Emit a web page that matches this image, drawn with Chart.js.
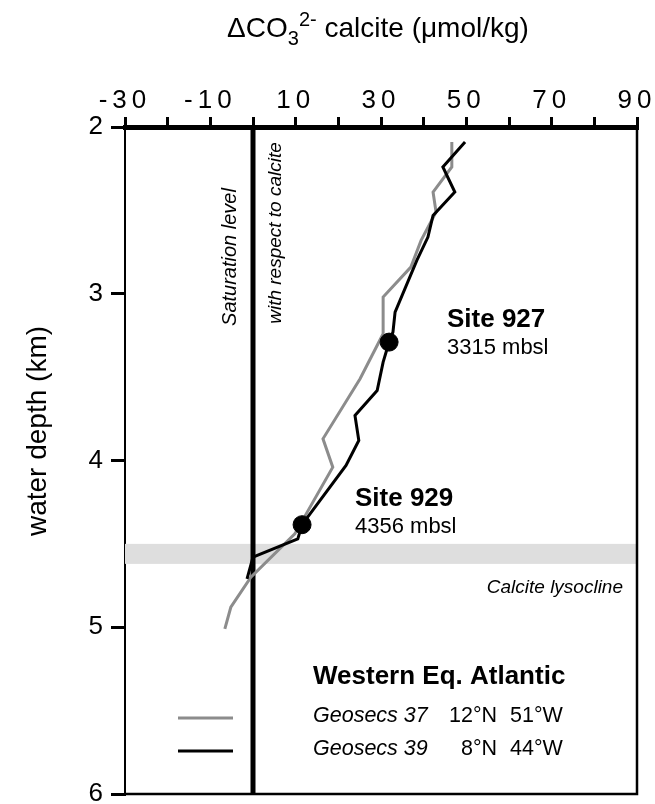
<!DOCTYPE html>
<html>
<head>
<meta charset="utf-8">
<script src="https://cdn.jsdelivr.net/npm/chart.js@4.4.0/dist/chart.umd.min.js"></script>
<style>
  html, body { margin: 0; padding: 0; background: #fff; }
  canvas { display: block; }
</style>
</head>
<body>
<canvas id="co3Chart" width="655" height="804"></canvas>
<script>
// Geosecs 37 (12°N 51°W) - grey profile
const geo37Delta = [46.6, 46.6, 42.2, 42.9, 39.4, 37.0, 30.5, 30.5, 25.1, 16.4, 18.7, 9.8, -0.5, -5.2, -6.6];
const geo37Depth = [2.09, 2.24, 2.39, 2.51, 2.68, 2.84, 3.02, 3.24, 3.51, 3.87, 4.04, 4.44, 4.70, 4.88, 5.01];

// Geosecs 39 (8°N 44°W) - black profile
const geo39Delta = [49.7, 44.5, 47.3, 42.2, 41.0, 38.4, 33.3, 32.8, 31.9, 30.5, 29.1, 23.9, 24.8, 21.8, 11.5, 10.5, 0.0, -1.4];
const geo39Depth = [2.09, 2.24, 2.39, 2.53, 2.66, 2.80, 3.11, 3.23, 3.29, 3.41, 3.58, 3.73, 3.88, 4.03, 4.385, 4.47, 4.58, 4.71];

// ODP sites
const siteNames = ['Site 927', 'Site 929'];
const siteMbsl = ['3315 mbsl', '4356 mbsl'];
const siteDelta = [31.9, 11.5];
const siteDepth = [3.29, 4.385];

// saturation level and lysocline band
const saturationDelta = [0, 0];
const saturationDepth = [2, 6];
const lysoclineDepth = [4.5, 4.62];

// axes
const xTicks = [-30, -20, -10, 0, 10, 20, 30, 40, 50, 60, 70, 80, 90];
const xLabelValues = [-30, -10, 10, 30, 50, 70, 90];
const yTicks = [2, 3, 4, 5, 6];

const FONT = "'Liberation Sans', Arial, sans-serif";

function toPoints(xs, ys) {
    return xs.map((x, i) => ({ x: x, y: ys[i] }));
}

function noOverflow(s) {
    s.paddingLeft = 0;
    s.paddingRight = 0;
    s.paddingTop = 0;
    s.paddingBottom = 0;
}

const figurePlugin = {
    id: 'figureText',
    beforeDraw(chart) {
        // spaced-out tick numbers like the original
        chart.ctx.letterSpacing = '5px';
    },
    beforeDatasetsDraw(chart) {
        const ctx = chart.ctx;
        ctx.letterSpacing = '0px';
        const { left, right } = chart.chartArea;
        const y = chart.scales.y;
        const y1 = y.getPixelForValue(lysoclineDepth[0]);
        const y2 = y.getPixelForValue(lysoclineDepth[1]);
        ctx.save();
        ctx.fillStyle = '#dedede';
        ctx.fillRect(left, y1, right - left, y2 - y1);
        ctx.restore();
    },
    afterDraw(chart) {
        const ctx = chart.ctx;
        const { left, right, top, bottom } = chart.chartArea;
        ctx.save();
        ctx.letterSpacing = '0px';

        // frame right and bottom
        ctx.strokeStyle = '#000';
        ctx.lineWidth = 2.5;
        ctx.beginPath();
        ctx.moveTo(right, top);
        ctx.lineTo(right, bottom);
        ctx.lineTo(left, bottom);
        ctx.stroke();

        ctx.fillStyle = '#000';
        ctx.textBaseline = 'alphabetic';

        // x title with sub/superscript
        const big = `28px ${FONT}`, small = `20px ${FONT}`;
        const parts = [
            { t: '\u0394CO', f: big, dy: 0 },
            { t: '3', f: small, dy: 8 },
            { t: '2-', f: small, dy: -11 },
            { t: ' calcite (\u03bcmol/kg)', f: big, dy: 0 }
        ];
        let total = 0;
        parts.forEach(p => { ctx.font = p.f; p.w = ctx.measureText(p.t).width; total += p.w; });
        let tx = 378 - total / 2;
        parts.forEach(p => {
            ctx.font = p.f;
            ctx.textAlign = 'left';
            ctx.fillText(p.t, tx, 37 + p.dy);
            tx += p.w;
        });

        // y title
        ctx.save();
        ctx.translate(38, 431);
        ctx.rotate(-Math.PI / 2);
        ctx.font = `28px ${FONT}`;
        ctx.textAlign = 'center';
        ctx.textBaseline = 'middle';
        ctx.fillText('water depth (km)', 0, 0);
        ctx.restore();

        // saturation labels
        [['Saturation level', 230, 257, 20], ['with respect to calcite', 276, 233, 19]].forEach(([t, x, yy, fs]) => {
            ctx.save();
            ctx.font = `italic ${fs}px ${FONT}`;
            ctx.translate(x, yy);
            ctx.rotate(-Math.PI / 2);
            ctx.textAlign = 'center';
            ctx.textBaseline = 'middle';
            ctx.fillText(t, 0, 0);
            ctx.restore();
        });

        // site labels
        const sitePos = [[447, 327], [355, 506]];
        siteNames.forEach((name, i) => {
            ctx.textAlign = 'left';
            ctx.font = `bold 26px ${FONT}`;
            ctx.fillText(name, sitePos[i][0], sitePos[i][1]);
            ctx.font = `22px ${FONT}`;
            ctx.fillText(siteMbsl[i], sitePos[i][0], sitePos[i][1] + 27);
        });

        // lysocline
        ctx.font = `italic 19px ${FONT}`;
        ctx.textAlign = 'right';
        ctx.fillText('Calcite lysocline', 623, 593);

        // legend
        ctx.textAlign = 'left';
        ctx.font = `bold 26px ${FONT}`;
        ctx.fillText('Western Eq. Atlantic', 313, 684);
        const rows = [
            { name: 'Geosecs 37', lat: '12\u00b0N', lon: '51\u00b0W', color: '#8c8c8c', y: 722 },
            { name: 'Geosecs 39', lat: '8\u00b0N', lon: '44\u00b0W', color: '#000', y: 755 }
        ];
        rows.forEach(r => {
            ctx.strokeStyle = r.color;
            ctx.lineWidth = 3;
            ctx.beginPath();
            ctx.moveTo(178, r.y - 4);
            ctx.lineTo(233, r.y - 4);
            ctx.stroke();
            ctx.textAlign = 'left';
            ctx.font = `italic 21.5px ${FONT}`;
            ctx.fillText(r.name, 313, r.y);
            ctx.font = `21.5px ${FONT}`;
            ctx.textAlign = 'right';
            ctx.fillText(r.lat, 497, r.y);
            ctx.textAlign = 'left';
            ctx.fillText(r.lon, 510, r.y);
        });
        ctx.restore();
    }
};

const ctx = document.getElementById('co3Chart').getContext('2d');
new Chart(ctx, {
    type: 'scatter',
    data: {
        datasets: [
            {
                label: 'ODP sites',
                data: toPoints(siteDelta, siteDepth),
                showLine: false,
                pointRadius: 9,
                pointBackgroundColor: '#000',
                pointBorderColor: '#000'
            },
            {
                label: 'Geosecs 39',
                data: toPoints(geo39Delta, geo39Depth),
                showLine: true,
                borderColor: '#000',
                borderWidth: 3,
                pointRadius: 0,
                tension: 0
            },
            {
                label: 'Geosecs 37',
                data: toPoints(geo37Delta, geo37Depth),
                showLine: true,
                borderColor: '#8c8c8c',
                borderWidth: 3,
                pointRadius: 0,
                tension: 0
            },
            {
                label: 'Saturation level',
                data: toPoints(saturationDelta, saturationDepth),
                showLine: true,
                borderColor: '#000',
                borderWidth: 5,
                pointRadius: 0
            }
        ]
    },
    options: {
        responsive: false,
        animation: false,
        layout: { padding: { left: 0, top: 0, right: 18, bottom: 9 } },
        plugins: {
            legend: { display: false },
            tooltip: { enabled: false }
        },
        scales: {
            x: {
                type: 'linear',
                position: 'top',
                min: -30,
                max: 90,
                afterFit: s => { s.height = 127; noOverflow(s); },
                afterBuildTicks: s => { s.ticks = xTicks.map(v => ({ value: v })); },
                ticks: {
                    autoSkip: false,
                    maxRotation: 0,
                    padding: 1,
                    color: '#000',
                    font: { family: FONT, size: 26 },
                    callback: v => xLabelValues.includes(v) ? String(v) : ''
                },
                grid: { drawOnChartArea: false, drawTicks: true, tickLength: 10, lineWidth: 3, color: '#000' },
                border: { display: true, width: 5, color: '#000' }
            },
            y: {
                type: 'linear',
                reverse: true,
                min: 2,
                max: 6,
                afterFit: s => { s.width = 125; noOverflow(s); },
                afterBuildTicks: s => { s.ticks = yTicks.map(v => ({ value: v })); },
                ticks: {
                    padding: 3,
                    color: '#000',
                    font: { family: FONT, size: 26 }
                },
                grid: { drawOnChartArea: false, drawTicks: true, tickLength: 14, lineWidth: 3, color: '#000' },
                border: { display: true, width: 2, color: '#000' }
            }
        }
    },
    plugins: [figurePlugin]
});
</script>
</body>
</html>
